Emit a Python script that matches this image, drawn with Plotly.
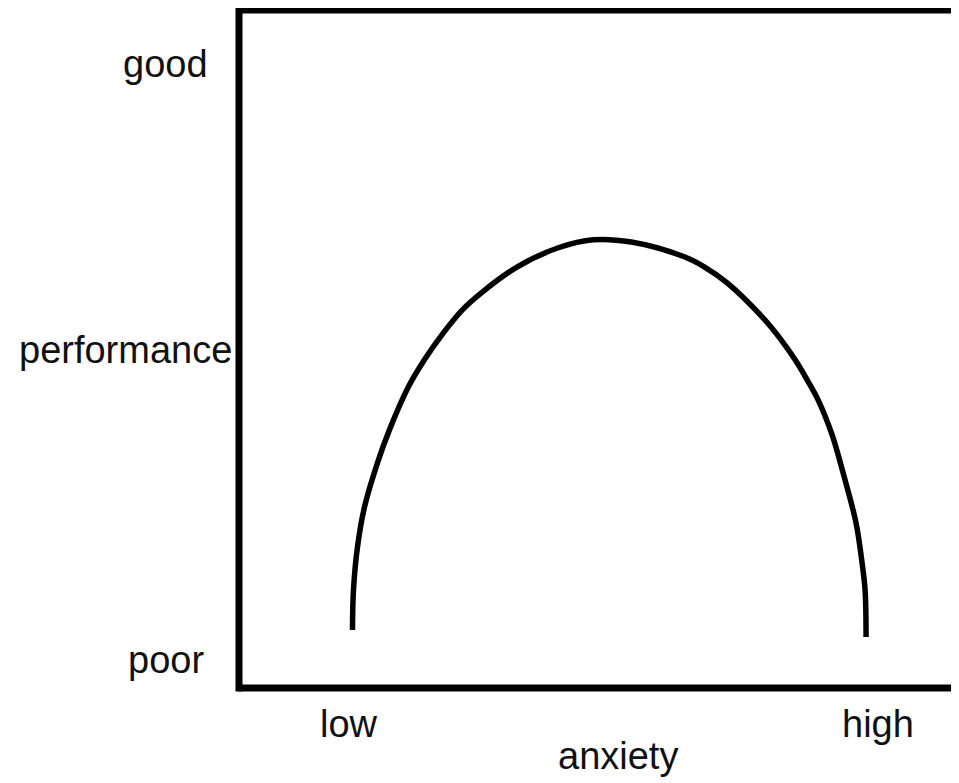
import plotly.graph_objects as go

# Curve (anxiety 0-10, performance 0-10)
anxiety = [1.534, 1.548, 1.604, 1.702, 1.883, 2.050, 2.315, 2.538, 2.803, 3.068, 3.333,
           3.835, 4.407, 4.895, 5.425, 6.165, 6.444, 6.764, 7.252, 7.517, 7.713, 7.880,
           8.033, 8.229, 8.382, 8.563, 8.647, 8.689, 8.703]
performance = [0.805, 1.401, 2.042, 2.638, 3.294, 3.785, 4.426, 4.829, 5.231, 5.574, 5.827,
               6.215, 6.498, 6.617, 6.583, 6.364, 6.215, 5.976, 5.469, 5.127, 4.829, 4.531,
               4.233, 3.711, 3.145, 2.399, 1.803, 1.401, 0.700]

x_label_text = ["low", "high"]
x_label_vals = [1.48, 8.87]
x_title = "anxiety"
x_title_val = 5.24

y_label_text = ["good", "performance", "poor"]
y_label_vals = [9.23, 4.98, 0.35]
y_label_xpos = [-0.102, -0.157, -0.102]

FONT = "Liberation Sans, Arial, sans-serif"
FSIZE = 38
TXT = "#111111"

fig = go.Figure()
fig.add_trace(go.Scatter(
    x=anxiety, y=performance, mode="lines",
    line=dict(color="black", width=5.5, shape="spline", smoothing=1.0),
    hoverinfo="skip", showlegend=False,
))

# frame: left, bottom, top (right side is off the canvas)
for x0, y0, x1, y1 in [(0, -0.005, 0, 1.005), (0, 0, 1.02, 0), (0, 1, 1.02, 1)]:
    fig.add_shape(type="line", xref="paper", yref="paper",
                  x0=x0, y0=y0, x1=x1, y1=y1,
                  line=dict(color="black", width=7))

for t, yv, xp in zip(y_label_text, y_label_vals, y_label_xpos):
    fig.add_annotation(text=t, x=xp, xref="paper", y=yv, yref="y",
                       showarrow=False, xanchor="center", yanchor="middle",
                       font=dict(family=FONT, size=FSIZE, color=TXT))

for t, xv in zip(x_label_text, x_label_vals):
    fig.add_annotation(text=t, x=xv, xref="x", y=-0.053, yref="paper",
                       showarrow=False, xanchor="center", yanchor="middle",
                       font=dict(family=FONT, size=FSIZE, color=TXT))

fig.add_annotation(text=x_title, x=x_title_val, xref="x", y=-0.1, yref="paper",
                   showarrow=False, xanchor="center", yanchor="middle",
                   font=dict(family=FONT, size=FSIZE, color=TXT))

fig.update_layout(
    width=959, height=775,
    margin=dict(l=230.5, r=8, t=2, b=95, autoexpand=False),
    paper_bgcolor="white", plot_bgcolor="white",
    font=dict(family=FONT, size=FSIZE, color=TXT),
    xaxis=dict(range=[-0.05, 10.0], showgrid=False, zeroline=False,
               showline=False, showticklabels=False, ticks=""),
    yaxis=dict(range=[-0.06, 10.04], showgrid=False, zeroline=False,
               showline=False, showticklabels=False, ticks=""),
)

fig.write_html("out.html")
